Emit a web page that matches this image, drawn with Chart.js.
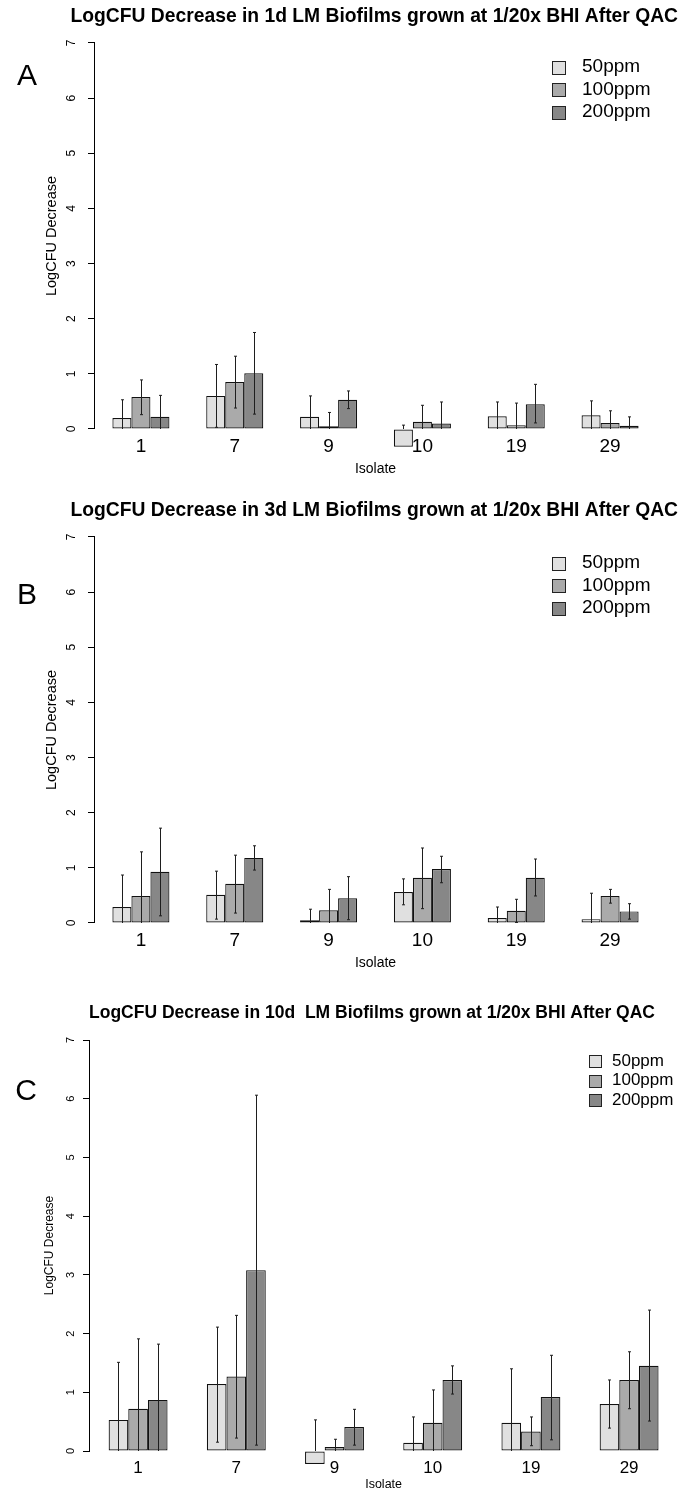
<!DOCTYPE html>
<html>
<head>
<meta charset="utf-8">
<script src="https://cdn.jsdelivr.net/npm/chart.js@4.4.1/dist/chart.umd.min.js"></script>
<style>
  html, body { margin: 0; padding: 0; background: #fff; }
  #page { position: relative; width: 681px; height: 1492px; background: #fff; }
  #page canvas { position: absolute; left: 0; }
</style>
</head>
<body>
<div id="page">
  <canvas id="panelA" width="681" height="494" style="top:0px"></canvas>
  <canvas id="panelB" width="681" height="494" style="top:494px"></canvas>
  <canvas id="panelC" width="681" height="504" style="top:988px"></canvas>
</div>
<script>
// ---- data ----
const isolates = ['1', '7', '9', '10', '19', '29'];
const doses = ['50ppm', '100ppm', '200ppm'];
const doseColors = ['#e0e0e0', '#aaaaaa', '#878787'];

// 1d biofilms (panel A): means, then upper / lower end of error bars
const d1_50 = [0.20, 0.60, 0.22, -0.32, 0.23, 0.25];
const d1_100 = [0.58, 0.85, 0.05, 0.13, 0.07, 0.11];
const d1_200 = [0.22, 1.01, 0.53, 0.10, 0.45, 0.06];
const d1_50_hi = [0.53, 1.17, 0.60, 0.07, 0.49, 0.51];
const d1_100_hi = [0.89, 1.32, 0.30, 0.43, 0.47, 0.33];
const d1_200_hi = [0.61, 1.75, 0.69, 0.49, 0.81, 0.22];
const d1_50_lo = [-0.13, 0.03, -0.16, -0.71, -0.03, -0.01];
const d1_100_lo = [0.26, 0.38, -0.20, -0.17, -0.33, -0.11];
const d1_200_lo = [-0.17, 0.27, 0.37, -0.29, 0.11, -0.10];

// 3d biofilms (panel B)
const d3_50 = [0.29, 0.51, 0.05, 0.56, 0.09, 0.07];
const d3_100 = [0.49, 0.71, 0.23, 0.82, 0.22, 0.49];
const d3_200 = [0.93, 1.18, 0.45, 0.98, 0.82, 0.21];
const d3_50_hi = [0.87, 0.94, 0.25, 0.80, 0.29, 0.54];
const d3_100_hi = [1.29, 1.23, 0.61, 1.36, 0.43, 0.61];
const d3_200_hi = [1.72, 1.40, 0.84, 1.21, 1.16, 0.35];
const d3_50_lo = [-0.29, 0.07, -0.15, 0.33, -0.11, -0.40];
const d3_100_lo = [-0.31, 0.18, -0.15, 0.26, 0.01, 0.36];
const d3_200_lo = [0.13, 0.96, 0.06, 0.73, 0.49, 0.07];

// 10d biofilms (panel C)
const d10_50 = [0.53, 1.14, -0.22, 0.14, 0.48, 0.80];
const d10_100 = [0.72, 1.27, 0.07, 0.48, 0.33, 1.21];
const d10_200 = [0.87, 3.08, 0.41, 1.21, 0.92, 1.45];
const d10_50_hi = [1.51, 2.11, 0.53, 0.58, 1.40, 1.21];
const d10_100_hi = [1.91, 2.31, 0.20, 1.04, 0.58, 1.69];
const d10_200_hi = [1.82, 6.06, 0.71, 1.45, 1.63, 2.40];
const d10_50_lo = [-0.45, 0.15, -0.97, -0.30, -0.44, 0.39];
const d10_100_lo = [-0.47, 0.22, -0.06, -0.08, 0.09, 0.72];
const d10_200_lo = [-0.08, 0.10, 0.10, 0.97, 0.19, 0.51];

const FONT = '"Liberation Sans", Arial, Helvetica, sans-serif';

// error bars, clipped to the plot region like R's arrows()
const errorBars = {
	id: 'errorBars',
	afterDatasetsDraw(chart, args, opts) {
		const { ctx, chartArea, scales } = chart;
		const y = scales.y;
		ctx.save();
		ctx.beginPath();
		ctx.rect(chartArea.left, chartArea.top, chartArea.right - chartArea.left, chartArea.bottom - chartArea.top);
		ctx.clip();
		ctx.strokeStyle = opts.color;
		ctx.lineWidth = 1;
		chart.data.datasets.forEach((ds, i) => {
			chart.getDatasetMeta(i).data.forEach((bar, j) => {
				const x = Math.round(bar.x) + 0.5;
				const yLo = y.getPixelForValue(ds.errLow[j]);
				const yHi = y.getPixelForValue(ds.errHigh[j]);
				ctx.beginPath();
				ctx.moveTo(x, yLo);
				ctx.lineTo(x, yHi);
				ctx.moveTo(x - opts.cap, yLo);
				ctx.lineTo(x + opts.cap, yLo);
				ctx.moveTo(x - opts.cap, yHi);
				ctx.lineTo(x + opts.cap, yHi);
				ctx.stroke();
			});
		});
		ctx.restore();
	}
};

// panel letter and the boxed legend in the top right
const panelDecor = {
	id: 'panelDecor',
	afterDraw(chart, args, opts) {
		const ctx = chart.ctx;
		ctx.save();
		ctx.fillStyle = '#000';
		ctx.font = opts.letterSize + 'px ' + FONT;
		ctx.textAlign = 'center';
		ctx.textBaseline = 'middle';
		ctx.fillText(opts.letter, opts.letterX, opts.letterY);

		ctx.font = opts.legendSize + 'px ' + FONT;
		ctx.textAlign = 'left';
		chart.data.datasets.forEach((ds, i) => {
			const yc = opts.legendY + i * opts.legendStep;
			const bx = opts.legendX + 0.5;
			const by = Math.round(yc - opts.box / 2) + 0.5;
			ctx.fillStyle = ds.backgroundColor;
			ctx.fillRect(bx, by, opts.box, opts.box);
			ctx.strokeStyle = '#222';
			ctx.lineWidth = 1;
			ctx.strokeRect(bx, by, opts.box, opts.box);
			ctx.fillStyle = '#000';
			ctx.fillText(ds.label, opts.legendX + opts.textGap, yc);
		});
		ctx.restore();
	}
};

function makeSets(means, highs, lows, frac) {
	return means.map((m, i) => ({
		label: doses[i],
		data: m,
		errHigh: highs[i],
		errLow: lows[i],
		backgroundColor: doseColors[i],
		borderColor: '#111',
		borderWidth: 1.2,
		borderSkipped: false,
		categoryPercentage: frac,
		barPercentage: 1,
		clip: false
	}));
}

function makePanel(id, p) {
	const scales = {
		x: {
			grid: { display: false, drawTicks: false },
			border: { display: false },
			ticks: {
				color: '#000',
				font: { family: FONT, size: p.xTickSize },
				padding: p.xTickPad,
				maxRotation: 0,
				autoSkip: false
			},
			title: {
				display: true,
				text: 'Isolate',
				color: '#000',
				font: { family: FONT, size: p.xTitleSize, lineHeight: 1.2 },
				padding: { top: 0, bottom: p.xTitlePad }
			},
			afterFit(scale) { scale.height = p.xHeight; }
		},
		y: {
			min: 0,
			max: 7,
			ticks: {
				stepSize: 1,
				color: '#000',
				font: { family: FONT, size: p.yTickSize },
				padding: p.yTickPad,
				minRotation: 90,
				maxRotation: 90,
				crossAlign: 'center'
			},
			grid: { drawOnChartArea: false, drawTicks: true, tickLength: 6, color: '#000' },
			border: { display: true, color: '#000', width: 1 },
			title: {
				display: true,
				text: 'LogCFU Decrease',
				color: '#000',
				font: { family: FONT, size: p.yTitleSize, lineHeight: 1.2 },
				padding: { top: p.yTitlePad, bottom: 0 }
			},
			afterFit(scale) { scale.width = p.yWidth; }
		}
	};
	// empty right-hand margin so the title can run past the plot region
	if (p.rightGap) {
		scales.yRight = {
			position: 'right',
			display: true,
			grid: { display: false, drawTicks: false },
			border: { display: false },
			ticks: { display: false },
			afterFit(scale) { scale.width = p.rightGap; }
		};
	}

	const config = {
		type: 'bar',
		data: {
			labels: isolates,
			datasets: makeSets(p.means, p.highs, p.lows, p.groupFrac)
		},
		options: {
			responsive: false,
			animation: false,
			devicePixelRatio: 1,
			layout: { padding: { left: 0, right: p.padRight, top: 0, bottom: 0 } },
			plugins: {
				legend: { display: false },
				tooltip: { enabled: false },
				title: {
					display: true,
					text: p.title,
					fullSize: p.titleFull,
					align: p.titleAlign,
					color: '#000',
					font: { family: FONT, size: p.titleSize, weight: 'bold', lineHeight: 1.2 },
					padding: { top: p.titleTop, bottom: p.titleBottom }
				},
				errorBars: { color: '#1e1e1e', cap: 1.5 },
				panelDecor: p.decor
			},
			scales: scales
		},
		plugins: [errorBars, panelDecor]
	};
	return new Chart(document.getElementById(id), config);
}

const wideLayout = {
	groupFrac: 0.608, padRight: 3, rightGap: 21, yWidth: 94,
	titleFull: true, titleAlign: 'end', titleSize: 19.3, titleTop: 5.4, titleBottom: 14.4,
	xTickSize: 19, xTickPad: 6, xTitleSize: 14, xTitlePad: 16.6, xHeight: 65,
	yTickSize: 12, yTickPad: 12.6, yTitleSize: 14.5, yTitlePad: 43.3
};

makePanel('panelA', Object.assign({}, wideLayout, {
	title: 'LogCFU Decrease in 1d LM Biofilms grown at 1/20x BHI After QAC',
	means: [d1_50, d1_100, d1_200],
	highs: [d1_50_hi, d1_100_hi, d1_200_hi],
	lows: [d1_50_lo, d1_100_lo, d1_200_lo],
	decor: { letter: 'A', letterX: 27, letterY: 77, letterSize: 30,
		legendX: 552, legendY: 67, legendStep: 22.5, box: 13, textGap: 30, legendSize: 19 }
}));

makePanel('panelB', Object.assign({}, wideLayout, {
	title: 'LogCFU Decrease in 3d LM Biofilms grown at 1/20x BHI After QAC',
	means: [d3_50, d3_100, d3_200],
	highs: [d3_50_hi, d3_100_hi, d3_200_hi],
	lows: [d3_50_lo, d3_100_lo, d3_200_lo],
	decor: { letter: 'B', letterX: 27, letterY: 102, letterSize: 30,
		legendX: 552, legendY: 69, legendStep: 22.5, box: 13, textGap: 30, legendSize: 19 }
}));

makePanel('panelC', {
	title: 'LogCFU Decrease in 10d  LM Biofilms grown at 1/20x BHI After QAC',
	means: [d10_50, d10_100, d10_200],
	highs: [d10_50_hi, d10_100_hi, d10_200_hi],
	lows: [d10_50_lo, d10_100_lo, d10_200_lo],
	groupFrac: 0.60, padRight: 2.8, rightGap: 0, yWidth: 89,
	titleFull: false, titleAlign: 'start', titleSize: 17.5, titleTop: 14.5, titleBottom: 16.5,
	xTickSize: 17, xTickPad: 6.7, xTitleSize: 12.5, xTitlePad: 0, xHeight: 41,
	yTickSize: 11, yTickPad: 8.9, yTitleSize: 12, yTitlePad: 42.8,
	decor: { letter: 'C', letterX: 26, letterY: 104, letterSize: 30,
		legendX: 589, legendY: 73, legendStep: 19.7, box: 12, textGap: 23, legendSize: 17 }
});
</script>
</body>
</html>
